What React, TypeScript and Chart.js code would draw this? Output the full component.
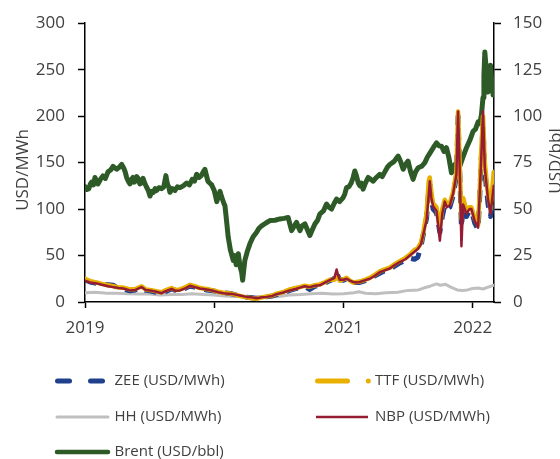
import React, { useEffect, useRef } from 'react';
import { Chart, registerables } from 'chart.js';

Chart.register(...registerables);

const FONT = "'Open Sans', sans-serif";
const TEXT = '#404040';

const xTickYears = [2019, 2020, 2021, 2022];
const leftTicks = [0, 50, 100, 150, 200, 250, 300];
const rightTicks = [0, 25, 50, 75, 100, 125, 150];

const seriesNames = ['ZEE (USD/MWh)', 'TTF (USD/MWh)', 'HH (USD/MWh)', 'NBP (USD/MWh)', 'Brent (USD/bbl)'];
const seriesColors = ['#203F8C', '#E9B000', '#BFBFBF', '#951C32', '#2D5A27'];

// Brent (right axis, USD/bbl): [decimal year, value]
const brentSeries: [number, number][] = [
  [2019.000, 62], [2019.015, 60.5], [2019.030, 61], [2019.041, 63.5], [2019.052, 64.5],
  [2019.065, 63], [2019.077, 67], [2019.088, 65], [2019.100, 63.5], [2019.120, 66],
  [2019.139, 67.8], [2019.158, 66.5], [2019.178, 70], [2019.198, 71], [2019.217, 73],
  [2019.232, 72], [2019.245, 71.5], [2019.265, 72.5], [2019.284, 74], [2019.300, 72],
  [2019.311, 70], [2019.322, 67], [2019.335, 65], [2019.348, 63.5], [2019.360, 66],
  [2019.371, 67], [2019.380, 64.5], [2019.390, 65], [2019.400, 67.5], [2019.410, 66.7],
  [2019.425, 63.5], [2019.437, 64], [2019.449, 66.5], [2019.462, 64], [2019.475, 62],
  [2019.490, 60], [2019.503, 57], [2019.517, 59.5], [2019.530, 59], [2019.542, 61],
  [2019.555, 60], [2019.573, 61.5], [2019.593, 61], [2019.610, 62], [2019.626, 68],
  [2019.633, 65], [2019.640, 63], [2019.648, 62], [2019.657, 59], [2019.676, 61],
  [2019.696, 60], [2019.715, 62], [2019.735, 61.5], [2019.760, 62.5], [2019.787, 64],
  [2019.808, 63], [2019.830, 66], [2019.847, 65], [2019.864, 68.7], [2019.882, 67],
  [2019.900, 68], [2019.915, 70], [2019.928, 71.4], [2019.940, 68], [2019.951, 65],
  [2019.965, 64], [2019.980, 63], [2020.000, 60], [2020.010, 57], [2020.020, 54],
  [2020.032, 57], [2020.045, 59.5], [2020.055, 57], [2020.065, 55], [2020.075, 53],
  [2020.083, 51.8], [2020.095, 44], [2020.108, 35], [2020.125, 28], [2020.147, 22.4],
  [2020.158, 25], [2020.170, 20], [2020.186, 26], [2020.200, 19], [2020.212, 16],
  [2020.220, 11.7], [2020.228, 17], [2020.237, 22.4], [2020.255, 27], [2020.276, 31.3],
  [2020.300, 35], [2020.328, 37.5], [2020.345, 39.5], [2020.367, 41], [2020.400, 42.5],
  [2020.431, 43.8], [2020.470, 44], [2020.508, 44.7], [2020.540, 45], [2020.572, 45.5],
  [2020.585, 42], [2020.599, 38.4], [2020.620, 41], [2020.637, 42.9], [2020.650, 40.5],
  [2020.663, 38.4], [2020.680, 41], [2020.702, 42], [2020.720, 39], [2020.740, 35.8],
  [2020.760, 39], [2020.779, 42], [2020.800, 44], [2020.817, 47.3], [2020.845, 49],
  [2020.869, 52.7], [2020.888, 51], [2020.908, 50], [2020.928, 53], [2020.947, 55.4],
  [2020.970, 54], [2020.998, 56.2], [2021.010, 58], [2021.024, 61.5], [2021.042, 62],
  [2021.060, 64], [2021.075, 67], [2021.088, 70.5], [2021.100, 68], [2021.115, 64],
  [2021.127, 62.5], [2021.140, 64], [2021.152, 60.7], [2021.170, 64], [2021.191, 67],
  [2021.210, 66], [2021.230, 65], [2021.255, 67], [2021.281, 68.7], [2021.300, 67.5],
  [2021.320, 70], [2021.340, 72.5], [2021.359, 74], [2021.390, 75.5], [2021.423, 78.5],
  [2021.440, 76], [2021.462, 71.4], [2021.480, 74], [2021.500, 75.8], [2021.520, 70],
  [2021.539, 66], [2021.558, 70], [2021.578, 72.2], [2021.605, 73], [2021.630, 75],
  [2021.650, 78], [2021.668, 80], [2021.695, 83], [2021.720, 85.6], [2021.740, 84],
  [2021.759, 83.8], [2021.778, 81], [2021.797, 83], [2021.815, 78], [2021.836, 69.5],
  [2021.850, 73], [2021.862, 74], [2021.880, 75], [2021.900, 73], [2021.925, 78],
  [2021.952, 83], [2021.978, 87], [2022.003, 91.8], [2022.022, 93], [2022.042, 97],
  [2022.055, 96], [2022.068, 100.7], [2022.080, 110], [2022.087, 122], [2022.094, 134.5],
  [2022.105, 125], [2022.119, 113], [2022.130, 120], [2022.138, 127.4], [2022.148, 118],
  [2022.158, 111.4], [2022.163, 116.8],
];

// European gas hubs (left axis, USD/MWh)
const gasDates = [
  2019.000, 2019.040, 2019.090, 2019.130, 2019.180, 2019.220, 2019.260, 2019.296, 2019.348, 2019.390,
  2019.438, 2019.470, 2019.503, 2019.550, 2019.593, 2019.620, 2019.670, 2019.700, 2019.735, 2019.780,
  2019.812, 2019.850, 2019.889, 2019.940, 2019.992, 2020.030, 2020.070, 2020.110, 2020.147, 2020.200,
  2020.250, 2020.290, 2020.328, 2020.370, 2020.405, 2020.450, 2020.483, 2020.530, 2020.585, 2020.630,
  2020.663, 2020.700, 2020.740, 2020.780, 2020.817, 2020.860, 2020.895, 2020.930, 2020.947, 2020.960,
  2020.972, 2021.000, 2021.024, 2021.050, 2021.075, 2021.100, 2021.127, 2021.170, 2021.204, 2021.240,
  2021.281, 2021.320, 2021.359, 2021.400, 2021.436, 2021.480, 2021.514, 2021.550, 2021.575, 2021.600,
  2021.617, 2021.643, 2021.660, 2021.668, 2021.680, 2021.694, 2021.720, 2021.735, 2021.746, 2021.765,
  2021.784, 2021.800, 2021.823, 2021.848, 2021.874, 2021.887, 2021.900, 2021.913, 2021.926, 2021.952,
  2021.975, 2021.990, 2022.016, 2022.042, 2022.055, 2022.065, 2022.080, 2022.094, 2022.119, 2022.138,
  2022.163,
];
const nbpValues = [
  23, 21, 20, 18.5, 17, 16, 15, 14.5, 12.5, 13,
  16, 13, 12.5, 11, 9.5, 11.5, 14, 12, 12.5, 15,
  17.5, 16, 14.5, 13.5, 12, 10.5, 9.5, 9, 8.5, 7,
  5.5, 5, 4, 5, 5.5, 6.5, 8.5, 10, 12.5, 14,
  15.5, 17, 16, 17.5, 18, 21, 23.5, 26, 35, 28,
  24, 24, 25, 23, 21.5, 21, 21.5, 23.5, 25, 28,
  32, 34, 36, 40, 43, 46, 50, 54, 57, 62,
  72, 88, 115, 130, 112, 103, 98, 80, 66, 95,
  108, 102, 104, 116, 137, 205, 140, 60, 105, 95,
  100, 100, 87, 80, 118, 150, 205, 144, 110, 95,
  125,
];
const ttfValues = [
  25, 22.5, 21, 19.5, 18, 17, 15.5, 15.5, 13.5, 14,
  17, 13.5, 13, 11.5, 10.5, 12.5, 15, 13, 13.5, 16,
  18.5, 17, 15, 14, 12.5, 11, 10, 9.5, 8.5, 6.5,
  5, 4, 3.5, 5, 6, 7, 9, 10.5, 13.5, 15,
  16, 17.5, 16.5, 18, 19, 21.5, 24, 24, 27, 26,
  23, 24.5, 26, 23, 21, 21.5, 22, 24, 26, 29,
  33, 35, 37, 41, 44, 47.5, 51, 56, 58, 64,
  74, 95, 130, 134, 118, 106, 102, 88, 80, 100,
  110, 106, 106, 118, 140, 205, 146, 90, 112, 98,
  102, 102, 90, 83, 122, 160, 200, 150, 115, 100,
  140,
];
const zeeValues = [
  24, 21.5, 20, 19, 18.5, 18, 14.5, 14, 12, 13,
  15, 12.5, 12, 10.5, 8, 11, 14, 12.5, 12.5, 15,
  17, 16, 14, 13, 12, 11, 10, 9.5, 8.5, 6.5,
  5, 4.5, 3.5, 5, 5.5, 6.5, 8, 9.5, 12.5, 14.5,
  15, 16.5, 13.5, 17, 18, 20.5, 23, 25, 33, 27,
  24, 23.5, 25, 22.5, 21, 21, 21, 23, 25, 28,
  31, 33.5, 35, 39, 42, 45, 47, 46, 48, 60,
  72, 90, 120, 128, 110, 100, 96, 84, 75, 92,
  104, 100, 102, 114, 135, 200, 138, 80, 104, 92,
  98, 98, 85, 78, 115, 150, 190, 140, 105, 92,
  118,
];

// Henry Hub (left axis, USD/MWh)
const hhDates = [
  2019.00, 2019.08, 2019.17, 2019.25, 2019.33, 2019.42, 2019.50, 2019.58, 2019.67, 2019.75,
  2019.83, 2019.92, 2020.00, 2020.08, 2020.17, 2020.25, 2020.33, 2020.42, 2020.50, 2020.58,
  2020.67, 2020.75, 2020.83, 2020.92, 2021.00, 2021.08, 2021.12, 2021.17, 2021.25, 2021.33,
  2021.42, 2021.50, 2021.58, 2021.62, 2021.67, 2021.72, 2021.75, 2021.79, 2021.83, 2021.88,
  2021.92, 2021.96, 2022.00, 2022.04, 2022.08, 2022.12, 2022.163,
];
const hhValues = [
  10, 10.5, 9.5, 9.5, 9, 8.5, 8.5, 7.5, 8, 8,
  9, 8, 7.5, 6.5, 6, 6, 6, 5.5, 6, 7.5,
  8, 9, 9.5, 8.5, 9, 10, 11, 9.5, 9, 10,
  10.5, 12.5, 13, 15, 17, 19.5, 18, 19, 16, 13,
  12.5, 13, 14.5, 15, 14, 16, 18,
];

const pts = (xs: number[], ys: number[]) => xs.map((x, i) => ({ x, y: ys[i] }));

const overlay = {
  id: 'overlay',
  afterDraw(chart: any) {
    const ctx = chart.ctx as CanvasRenderingContext2D;
    ctx.save();
    ctx.fillStyle = TEXT;
    ctx.font = `17px ${FONT}`;
    ctx.textAlign = 'center';
    ctx.textBaseline = 'alphabetic';
    ctx.save();
    ctx.translate(27.5, 170);
    ctx.rotate(-Math.PI / 2);
    ctx.fillText('USD/MWh', 0, 0);
    ctx.restore();
    ctx.save();
    ctx.translate(561, 161);
    ctx.rotate(-Math.PI / 2);
    ctx.fillText('USD/bbl', 0, 0);
    ctx.restore();

    const rows = [381, 417, 452];
    const items = [
      { col: 0, row: 0, idx: 0 },
      { col: 1, row: 0, idx: 1 },
      { col: 0, row: 1, idx: 2 },
      { col: 1, row: 1, idx: 3 },
      { col: 0, row: 2, idx: 4 },
    ];
    const seg = (x1: number, x2: number, y: number, w: number, c: string, cap: CanvasLineCap = 'round') => {
      ctx.beginPath();
      ctx.lineCap = cap;
      ctx.lineWidth = w;
      ctx.strokeStyle = c;
      ctx.moveTo(x1, y);
      ctx.lineTo(x2, y);
      ctx.stroke();
    };
    items.forEach(({ col, row, idx }) => {
      const y = rows[row];
      const c = seriesColors[idx];
      if (idx === 0) {
        seg(57.5, 69.5, y, 5, c);
        seg(90.5, 102.5, y, 5, c);
      } else if (idx === 1) {
        seg(317.5, 347.5, y, 5, c);
        seg(368.3, 368.3, y, 5, c);
      } else if (idx === 2) {
        seg(57, 108, y, 3, c);
      } else if (idx === 3) {
        seg(316, 368, y, 2.5, c, 'butt');
      } else {
        seg(57, 108, y, 4.5, c);
      }
      ctx.fillStyle = TEXT;
      ctx.font = `15px ${FONT}`;
      ctx.textAlign = 'left';
      ctx.textBaseline = 'middle';
      ctx.fillText(seriesNames[idx], col === 0 ? 114.5 : 375, y);
    });
    ctx.restore();
  },
};

export default function App() {
  const ref = useRef<HTMLCanvasElement>(null);
  useEffect(() => {
    document.body.style.margin = '0';
    const base = { pointRadius: 0, tension: 0, borderJoinStyle: 'round' as const, borderCapStyle: 'round' as const, fill: false };
    const chart = new Chart(ref.current!, {
      type: 'line',
      data: {
        datasets: [
          { ...base, label: seriesNames[0], data: pts(gasDates, zeeValues), borderColor: seriesColors[0], borderWidth: 5, borderDash: [12, 9], borderCapStyle: 'butt', yAxisID: 'y', order: 2 },
          { ...base, label: seriesNames[1], data: pts(gasDates, ttfValues), borderColor: seriesColors[1], borderWidth: 4.5, yAxisID: 'y', order: 1 },
          { ...base, label: seriesNames[2], data: pts(hhDates, hhValues), borderColor: seriesColors[2], borderWidth: 3, yAxisID: 'y', order: 3 },
          { ...base, label: seriesNames[3], data: pts(gasDates, nbpValues), borderColor: seriesColors[3], borderWidth: 2.5, yAxisID: 'y', order: 0 },
          { ...base, label: seriesNames[4], data: brentSeries.map(([x, y]) => ({ x, y })), borderColor: seriesColors[4], borderWidth: 5, yAxisID: 'y1', order: 4 },
        ],
      },
      options: {
        responsive: false,
        animation: false,
        events: [],
        layout: { padding: { top: 21, bottom: 114, left: 0, right: 0 } },
        plugins: { legend: { display: false }, tooltip: { enabled: false } },
        scales: {
          x: {
            type: 'linear',
            min: 2019,
            max: 2022.165,
            afterBuildTicks: (axis: any) => { axis.ticks = xTickYears.map((v) => ({ value: v })); },
            ticks: { callback: (v: any) => String(v), color: TEXT, font: { family: FONT, size: 17 }, padding: 10, maxRotation: 0, autoSkip: false },
            grid: { drawOnChartArea: false, drawTicks: true, tickLength: 6, tickColor: '#000', tickWidth: 1.5 },
            border: { display: true, color: '#000', width: 1.5 },
            afterFit: (s: any) => { s.height = 43; },
          },
          y: {
            position: 'left',
            min: 0,
            max: 300,
            afterBuildTicks: (axis: any) => { axis.ticks = leftTicks.map((v) => ({ value: v })); },
            ticks: { callback: (v: any) => String(v), color: TEXT, font: { family: FONT, size: 17 }, padding: 13 },
            grid: { drawOnChartArea: false, drawTicks: true, tickLength: 7, tickColor: '#000', tickWidth: 1.5 },
            border: { display: true, color: '#000', width: 1.5 },
            afterFit: (s: any) => { s.width = 85; },
          },
          y1: {
            position: 'right',
            min: 0,
            max: 150,
            afterBuildTicks: (axis: any) => { axis.ticks = rightTicks.map((v) => ({ value: v })); },
            ticks: { callback: (v: any) => String(v), color: TEXT, font: { family: FONT, size: 17 }, padding: 12 },
            grid: { drawOnChartArea: false, drawTicks: true, tickLength: 7, tickColor: '#000', tickWidth: 1.5 },
            border: { display: true, color: '#000', width: 1.5 },
            afterFit: (s: any) => { s.width = 66; },
          },
        },
      },
      plugins: [overlay],
    });
    return () => chart.destroy();
  }, []);
  return <canvas ref={ref} width={560} height={459} style={{ display: 'block' }} />;
}
